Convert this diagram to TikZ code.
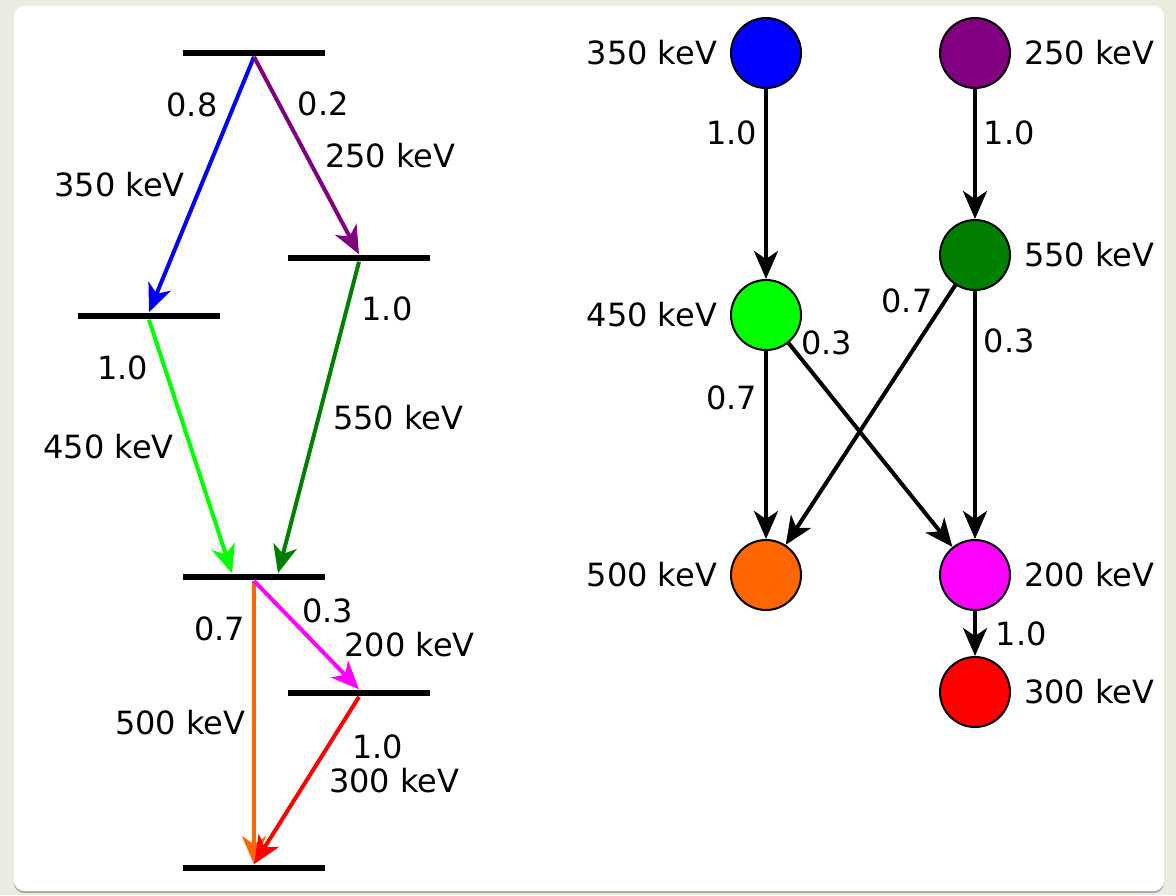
\documentclass[tikz,border=0pt]{standalone}
\usepackage{fontspec}
\setmainfont{DejaVu Sans}
\usepackage{tikz}
\tikzset{x=.5pt,y=-.5pt}
\usetikzlibrary{arrows.meta, calc, positioning}
\definecolor{bgbeige}{HTML}{ECEBE0}
\definecolor{edgegray}{HTML}{A8A8A4}
\definecolor{lvlblue}{HTML}{0000FF}
\definecolor{lvlred}{HTML}{FF0000}
\definecolor{lvlgreen}{HTML}{007F00}
\definecolor{lvlpurple}{HTML}{800080}
\definecolor{lvllime}{HTML}{00FF00}
\definecolor{lvlorange}{HTML}{FF6600}
\definecolor{lvlmagenta}{HTML}{FF00FF}

\begin{document}
\begin{tikzpicture}[font=\fontsize{16}{19}\selectfont,
    lvl/.style={fill=black, inner sep=0pt, minimum width=71pt, minimum height=3.4pt},
    gam/.style={line width=2pt, -{Stealth[length=14pt,width=12pt,inset=4pt]}},
    state/.style={circle, draw=black, line width=1pt, minimum size=35pt, inner sep=0pt},
    every node/.append style={text=black},
    label distance=3pt]
  % panel
  \useasboundingbox (0,0) rectangle (1176,895);
  \fill[bgbeige] (0,0) rectangle (1176,895);
  \fill[edgegray, rounded corners=5pt] (14,8) rectangle (1164,893);
  \fill[white, rounded corners=5pt] (14,6) rectangle (1164,891);

  % level scheme
  \node[lvl] (t)  at (254,53)  {};
  \node[lvl] (l1) at (359,258) {};
  \node[lvl] (l2) at (149,316) {};
  \node[lvl] (l3) at (254,577) {};
  \node[lvl] (l4) at (359,693) {};
  \node[lvl] (b)  at (254,868) {};

  \draw[gam,lvlblue] (t.south) -- (l2.north)
    node[pos=.19,left=4pt] {0.8} node[pos=.5,left=4pt] {350 keV};
  \draw[gam,lvlpurple] (t.south) -- (l1.north)
    node[pos=.24,right=5pt] {0.2} node[pos=.5,right=5pt] {250 keV};
  \draw[gam,lvllime] (l2.south) -- ($(l3.north)+(-22,0)$)
    node[pos=.19,left=4pt] {1.0} node[pos=.5,left=4pt] {450 keV};
  \draw[gam,lvlgreen] (l1.south) -- ($(l3.north)+(24,0)$)
    node[pos=.15,right=3pt] {1.0} node[pos=.5,right=3pt] {550 keV};
  \draw[gam,lvlorange] (l3.south) -- (b.north)
    node[pos=.17,left=0pt] {0.7} node[pos=.5,left=0pt] {500 keV};
  \draw[gam,lvlmagenta] (l3.south) -- (l4.north)
    node[pos=.28,right=5pt] {0.3} node[pos=.59,right=10pt] {200 keV};
  \draw[gam,lvlred] (l4.south) -- (b.north)
    node[pos=.3,right=8pt] {1.0} node[pos=.5,right=7pt] {300 keV};

  % decay graph
  \node[state,fill=lvlblue,label=left:350 keV]     (n350) at (766,53)  {};
  \node[state,fill=lvlpurple,label=right:250 keV]  (n250) at (975,53)  {};
  \node[state,fill=lvllime,label=left:450 keV]     (n450) at (766,315) {};
  \node[state,fill=lvlgreen,label=right:550 keV]   (n550) at (975,255) {};
  \node[state,fill=lvlorange,label=left:500 keV]   (n500) at (766,575) {};
  \node[state,fill=lvlmagenta,label=right:200 keV] (n200) at (975,575) {};
  \node[state,fill=lvlred,label=right:300 keV]     (n300) at (975,692) {};

  \draw[gam] (n350) -- node[pos=.23,left] {1.0} (n450);
  \draw[gam] (n250) -- node[pos=.34,right] {1.0} (n550);
  \draw[gam] (n450) -- node[pos=.25,left] {0.7} (n500);
  \draw[gam] (n450) -- node[pos=0,right=2pt] {0.3} (n200);
  \draw[gam] (n550) -- node[pos=.06,left=2pt] {0.7} (n500);
  \draw[gam] (n550) -- node[pos=.2,right] {0.3} (n200);
  \draw[gam] (n200) -- node[pos=.5,right=6pt] {1.0} (n300);
\end{tikzpicture}
\end{document}
